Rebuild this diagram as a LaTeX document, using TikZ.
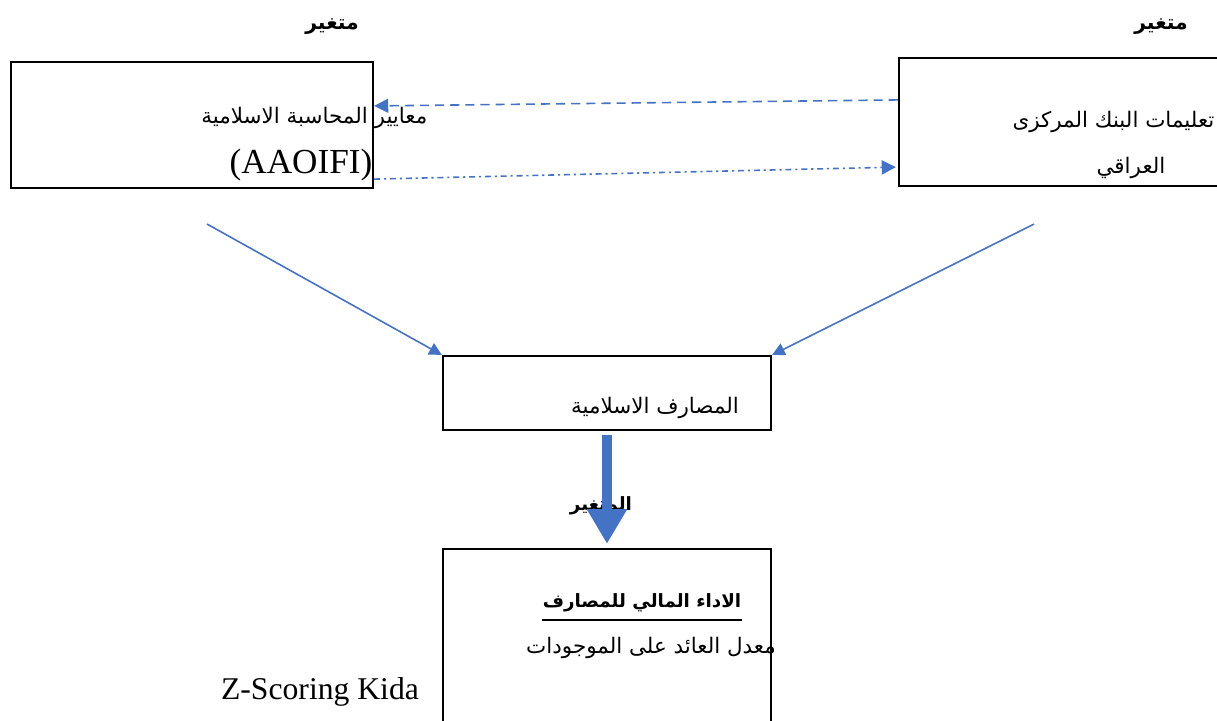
\documentclass[tikz,border=0pt]{standalone}
\usepackage{fontspec}
\setmainfont{Liberation Serif}
\newfontfamily\arabicfont[Script=Arabic]{DejaVu Sans}
\TeXXeTstate=1
\usetikzlibrary{arrows.meta,calc}
\definecolor{linkblue}{HTML}{4472C4}
\newcommand{\artxt}[1]{{\arabicfont\beginR #1\endR}}

\begin{document}
\begin{tikzpicture}[x=0.01cm,y=-0.01cm,
    box/.style={draw,line width=0.6pt,inner sep=0pt},
    artext/.style={font=\fontsize{6.1}{8}\selectfont,inner sep=0pt},
    varlabel/.style={font=\fontsize{5.8}{8}\selectfont\bfseries,inner sep=0pt},
    titlelabel/.style={font=\fontsize{5.2}{7}\selectfont\bfseries,inner sep=0pt},
    link/.style={draw=linkblue,line width=0.45pt,-{Triangle[length=3.6pt,width=3.6pt]}},
    dashlink/.style={link,dash pattern=on 2.6pt off 1.7pt,-{Triangle[length=4pt,width=4pt]}},
    dotlink/.style={link,dash pattern=on 1.7pt off 1.1pt on 0.6pt off 1.1pt,-{Triangle[length=4pt,width=4pt]}},
    blockarrow/.style={draw=linkblue,line width=3.1pt,-{Triangle[length=9.9pt,width=10.8pt]},
        shorten <=0.04cm,shorten >=0.04cm}]
        \useasboundingbox (0,0) rectangle (1217,720);
        \clip (0,0) rectangle (1217,720);
        \node[box,minimum width=3.62cm,minimum height=1.26cm] (lbox) at (192,125) {};
        \node[box,minimum width=3.41cm,minimum height=1.28cm] (rbox) at (1069.5,122) {};
        \node[box,minimum width=3.28cm,minimum height=0.74cm] (mbox) at (607,393) {};
        \node[box,minimum width=3.28cm,minimum height=2.11cm] (bbox) at (607,654.5) {};
        \node[varlabel] (lvar) at (332,27) {\artxt{متغير}};
        \node[varlabel] (rvar) at (1161,27) {\artxt{متغير}};
        \node[artext,anchor=east] (ltext) at (428,118) {\artxt{معايير المحاسبة الاسلامية}};
        \node[inner sep=0pt,font=\fontsize{10}{12}\selectfont] (aaoifi) at (301,165) {(AAOIFI)};
        \node[artext,anchor=east] (rtext) at (1215,122) {\artxt{تعليمات البنك المركزى}};
        \node[artext] (rtext2) at (1131,168) {\artxt{العراقي}};
        \node[artext] (mtext) at (655,408) {\artxt{المصارف الاسلامية}};
        \node[titlelabel] (dvar) at (601,506) {\artxt{المتغير}};
        \node[titlelabel,inner ysep=2pt] (btitle) at (642,603) {\artxt{الاداء المالي للمصارف}};
        \draw[line width=0.6pt] (btitle.south west) -- (btitle.south east);
        \node[artext] (btext) at (651,648) {\artxt{معدل العائد على الموجودات}};
        \node[inner sep=0pt,font=\fontsize{9}{11}\selectfont] (zscore) at (320,692) {Z-Scoring Kida};
        \draw[dashlink] ($(rbox.north west)+(0,43)$) -- ($(lbox.north east)+(0,45)$);
        \draw[dotlink] ($(lbox.south east)+(0,-10)$) -- ($(rbox.south west)+(-2,-20)$);
        \coordinate (lfoot) at (207,224);
        \coordinate (rfoot) at (1034,224);
        \draw[link] (lfoot) -- (mbox.north west);
        \draw[link] (rfoot) -- (mbox.north east);
        \draw[blockarrow] (mbox.south) -- (bbox.north);
\end{tikzpicture}
\end{document}
